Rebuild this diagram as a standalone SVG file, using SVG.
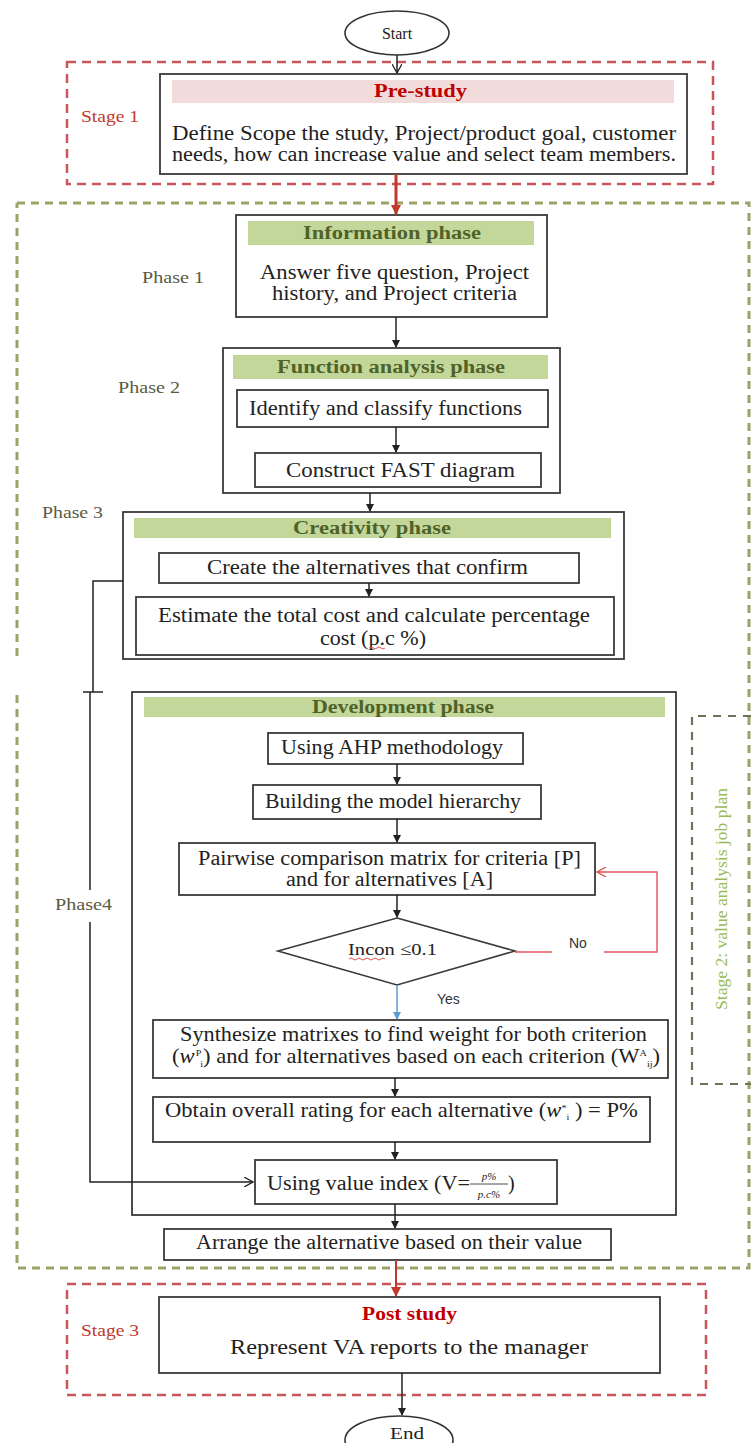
<svg xmlns="http://www.w3.org/2000/svg" width="751" height="1443" viewBox="0 0 751 1443">
<style>
.box{fill:#fff;stroke:#3a3a3a;stroke-width:1.8}
.hdr{fill:#c4d79b}
.t{font-family:"Liberation Serif",serif;font-size:20px;fill:#222}
.h{font-family:"Liberation Serif",serif;font-size:18px;font-weight:bold;fill:#4f6228}
.ph{font-family:"Liberation Serif",serif;font-size:17px;fill:#5a5a42}
.stg{font-family:"Liberation Serif",serif;font-size:17px;fill:#c0392b}
.sans{font-family:"Liberation Sans",sans-serif;font-size:14px;fill:#333}
.conn{stroke:#222;stroke-width:1.5;fill:none}
.redc{stroke:#c0392b;stroke-width:3;fill:none}
.rdash{fill:none;stroke:#c8565a;stroke-width:2.5;stroke-dasharray:9 6}
.gdash{fill:none;stroke:#9ca36a;stroke-width:3;stroke-dasharray:8 6}
</style>
<defs>
<marker id="ah" markerWidth="8" markerHeight="8" refX="7" refY="4" orient="auto" markerUnits="userSpaceOnUse"><path d="M0,0 L8,4 L0,8 z" fill="#222"/></marker>
<marker id="ahr" markerWidth="10" markerHeight="10" refX="9" refY="5" orient="auto" markerUnits="userSpaceOnUse"><path d="M0,0 L10,5 L0,10 z" fill="#c0392b"/></marker>
<marker id="ahb" markerWidth="8" markerHeight="8" refX="7" refY="4" orient="auto" markerUnits="userSpaceOnUse"><path d="M0,0 L8,4 L0,8 z" fill="#5b9bd5"/></marker>
<marker id="open" markerWidth="10" markerHeight="10" refX="9" refY="5" orient="auto" markerUnits="userSpaceOnUse"><path d="M0,0 L9,5 L0,10" fill="none" stroke="#222" stroke-width="1.3"/></marker>
<marker id="openr" markerWidth="10" markerHeight="10" refX="9" refY="5" orient="auto" markerUnits="userSpaceOnUse"><path d="M0,0 L9,5 L0,10" fill="none" stroke="#e0555a" stroke-width="1.3"/></marker>
</defs>

<g id="frames">
<rect x="67" y="62" width="646" height="122" class="rdash"/>
<path d="M17,203 H749 V1268 H17 V690 M17,656 V203" class="gdash"/>
<path d="M751,716 H692 V1084 H751" fill="none" stroke="#6e7256" stroke-width="2.2" stroke-dasharray="8 7"/>
<rect x="67" y="1284" width="639" height="111" class="rdash"/>
</g>

<g id="labels">
<text x="81" y="122" class="stg" textLength="58" lengthAdjust="spacingAndGlyphs">Stage 1</text>
<text x="142" y="283" class="ph" textLength="62" lengthAdjust="spacingAndGlyphs">Phase 1</text>
<text x="118" y="393" class="ph" textLength="62" lengthAdjust="spacingAndGlyphs">Phase 2</text>
<text x="42" y="518" class="ph" textLength="61" lengthAdjust="spacingAndGlyphs">Phase 3</text>
<text x="55" y="910" class="ph" textLength="57" lengthAdjust="spacingAndGlyphs">Phase4</text>
<text x="81" y="1336" class="stg" textLength="58" lengthAdjust="spacingAndGlyphs">Stage 3</text>
<text transform="translate(727,899) rotate(-90)" text-anchor="middle" font-family="Liberation Serif, serif" font-size="16" fill="#9bbb59" textLength="222" lengthAdjust="spacingAndGlyphs">Stage 2: value analysis job plan</text>
</g>

<g id="start">
<ellipse cx="397" cy="33" rx="52" ry="22" fill="#fff" stroke="#333" stroke-width="1.6"/>
<text x="397" y="39" text-anchor="middle" font-family="Liberation Serif, serif" font-size="16" fill="#222">Start</text>
</g>

<g id="prestudy">
<rect x="160" y="74" width="527" height="100" class="box"/>
<rect x="172" y="80" width="502" height="23" fill="#f2dcdb"/>
<text x="374" y="97" font-family="Liberation Serif, serif" font-size="18" font-weight="bold" fill="#c00000" textLength="93" lengthAdjust="spacingAndGlyphs">Pre-study</text>
<text x="172" y="140" class="t" textLength="504" lengthAdjust="spacingAndGlyphs">Define Scope the study, Project/product goal, customer</text>
<text x="172" y="161" class="t" textLength="504" lengthAdjust="spacingAndGlyphs">needs, how can increase value and select team members.</text>
</g>

<g id="information">
<rect x="236" y="215" width="311" height="102" class="box"/>
<rect x="248" y="221" width="286" height="24" class="hdr"/>
<text x="303" y="239" class="h" textLength="178" lengthAdjust="spacingAndGlyphs">Information phase</text>
<text x="260" y="279" class="t" textLength="269" lengthAdjust="spacingAndGlyphs">Answer five question, Project</text>
<text x="272" y="300" class="t" textLength="245" lengthAdjust="spacingAndGlyphs">history, and Project criteria</text>
</g>

<g id="function">
<rect x="223" y="348" width="337" height="145" class="box"/>
<rect x="233" y="355" width="315" height="24" class="hdr"/>
<text x="277" y="373" class="h" textLength="228" lengthAdjust="spacingAndGlyphs">Function analysis phase</text>
</g>
<g id="identify">
<rect x="237" y="390" width="311" height="37" class="box"/>
<text x="249" y="415" class="t" textLength="273" lengthAdjust="spacingAndGlyphs">Identify and classify functions</text>
</g>
<g id="fast">
<rect x="255" y="453" width="286" height="34" class="box"/>
<text x="286" y="477" class="t" textLength="229" lengthAdjust="spacingAndGlyphs">Construct FAST diagram</text>
</g>

<g id="creativity">
<rect x="123" y="512" width="501" height="147" class="box"/>
<rect x="134" y="518" width="477" height="20" class="hdr"/>
<text x="293" y="534" class="h" textLength="158" lengthAdjust="spacingAndGlyphs">Creativity phase</text>
</g>
<g id="create">
<rect x="159" y="553" width="420" height="30" class="box"/>
<text x="207" y="574" class="t" textLength="321" lengthAdjust="spacingAndGlyphs">Create the alternatives that confirm</text>
</g>
<g id="estimate">
<rect x="136" y="597" width="478" height="58" class="box"/>
<text x="158" y="622" class="t" textLength="432" lengthAdjust="spacingAndGlyphs">Estimate the total cost and calculate percentage</text>
<text x="320" y="645" class="t" textLength="106" lengthAdjust="spacingAndGlyphs">cost (p.c %)</text>
<path d="M369,648 q2,-2 4,0 t4,0 t4,0 t4,0" fill="none" stroke="#e05050" stroke-width="1"/>
</g>

<g id="development">
<rect x="132" y="692" width="544" height="523" class="box"/>
<rect x="144" y="697" width="521" height="20" class="hdr"/>
<text x="312" y="713" class="h" textLength="182" lengthAdjust="spacingAndGlyphs">Development phase</text>
</g>
<g id="ahp">
<rect x="268" y="733" width="255" height="31" class="box"/>
<text x="281" y="754" class="t" textLength="222" lengthAdjust="spacingAndGlyphs">Using AHP methodology</text>
</g>
<g id="hierarchy">
<rect x="253" y="785" width="288" height="34" class="box"/>
<text x="265" y="808" class="t" textLength="256" lengthAdjust="spacingAndGlyphs">Building the model hierarchy</text>
</g>
<g id="pairwise">
<rect x="179" y="843" width="416" height="52" class="box"/>
<text x="198" y="865" class="t" textLength="383" lengthAdjust="spacingAndGlyphs">Pairwise comparison matrix for criteria [P]</text>
<text x="286" y="886" class="t" textLength="207" lengthAdjust="spacingAndGlyphs">and for alternatives [A]</text>
</g>
<g id="incon">
<polygon points="397,918 515,951 397,985 278,951" fill="#fff" stroke="#3a3a3a" stroke-width="1.6"/>
<text x="348" y="955" font-family="Liberation Serif, serif" font-size="17" fill="#222" textLength="89" lengthAdjust="spacingAndGlyphs">Incon ≤0.1</text>
<path d="M349,959 q2,-2 4,0 t4,0 t4,0 t4,0 t4,0 t4,0 t4,0 t4,0 t4,0" fill="none" stroke="#e05050" stroke-width="1"/>
</g>
<g id="synthesize">
<rect x="153" y="1020" width="515" height="58" class="box"/>
<text x="180" y="1041" class="t" textLength="467" lengthAdjust="spacingAndGlyphs">Synthesize matrixes to find weight for both criterion</text>
<text transform="translate(172,1063) scale(1.13,1)" class="t">(<tspan font-style="italic">w</tspan><tspan font-size="9" dx="1" dy="-7">P</tspan><tspan font-size="9" dx="-1" dy="11">i</tspan><tspan dy="-4">) and for alternatives based on each criterion (W</tspan><tspan font-size="9" dy="-7">A</tspan><tspan font-size="9" dy="11">ij</tspan><tspan dy="-4">)</tspan></text>
</g>
<g id="obtain">
<rect x="153" y="1097" width="497" height="45" class="box"/>
<text transform="translate(165,1117) scale(1.13,1)" class="t">Obtain overall rating for each alternative (<tspan font-style="italic">w</tspan><tspan font-size="9" dy="-6">*</tspan><tspan font-size="9" dy="9">i</tspan><tspan dy="-3"> ) = P%</tspan></text>
</g>
<g id="valueindex">
<rect x="255" y="1160" width="302" height="44" class="box"/>
<text x="267" y="1190" class="t" textLength="203" lengthAdjust="spacingAndGlyphs">Using value index (V=</text>
<text x="489" y="1180" text-anchor="middle" font-family="Liberation Serif, serif" font-size="11" font-style="italic" fill="#222">p%</text>
<line x1="470" y1="1184" x2="508" y2="1184" stroke="#222" stroke-width="0.8"/>
<text x="489" y="1198" text-anchor="middle" font-family="Liberation Serif, serif" font-size="11" font-style="italic" fill="#222">p.c%</text>
<text x="508" y="1190" class="t">)</text>
</g>
<g id="arrange">
<rect x="164" y="1229" width="447" height="31" class="box"/>
<text x="196" y="1249" class="t" textLength="386" lengthAdjust="spacingAndGlyphs">Arrange the alternative based on their value</text>
</g>

<g id="poststudy">
<rect x="159" y="1297" width="501" height="76" class="box"/>
<text x="362" y="1320" font-family="Liberation Serif, serif" font-size="18" font-weight="bold" fill="#c00000" textLength="95" lengthAdjust="spacingAndGlyphs">Post study</text>
<text x="230" y="1354" class="t" textLength="358" lengthAdjust="spacingAndGlyphs">Represent VA reports to the manager</text>
</g>

<g id="end">
<ellipse cx="399" cy="1440" rx="54" ry="24" fill="#fff" stroke="#333" stroke-width="1.6"/>
<text x="390" y="1439" font-family="Liberation Serif, serif" font-size="16" fill="#222" textLength="34" lengthAdjust="spacingAndGlyphs">End</text>
</g>

<g id="connectors">
<path d="M397,55 V73" class="conn" marker-end="url(#open)"/>
<path d="M396,174 V214" class="redc" marker-end="url(#ahr)"/>
<path d="M396,317 V347" class="conn" marker-end="url(#ah)"/>
<path d="M396,427 V452" class="conn" marker-end="url(#ah)"/>
<path d="M370,493 V511" class="conn" marker-end="url(#ah)"/>
<path d="M369,583 V596" class="conn" marker-end="url(#ah)"/>
<path d="M123,581 H93 V692" class="conn"/>
<path d="M83,692 H103" class="conn"/>
<path d="M90,692 V890 M90,922 V1182 H253" class="conn" marker-end="url(#open)"/>
<path d="M397,764 V784" class="conn" marker-end="url(#ah)"/>
<path d="M397,819 V842" class="conn" marker-end="url(#ah)"/>
<path d="M397,895 V917" class="conn" marker-end="url(#ah)"/>
<path d="M515,952 H552" fill="none" stroke="#e0555a" stroke-width="1.4"/>
<text x="569" y="948" class="sans">No</text>
<path d="M604,952 H657 V872 H597" fill="none" stroke="#e0555a" stroke-width="1.4" marker-end="url(#openr)"/>
<path d="M397,985 V1019" fill="none" stroke="#5b9bd5" stroke-width="1.5" marker-end="url(#ahb)"/>
<text x="437" y="1004" class="sans">Yes</text>
<path d="M395,1078 V1096" class="conn" marker-end="url(#ah)"/>
<path d="M395,1142 V1159" class="conn" marker-end="url(#ah)"/>
<path d="M395,1204 V1228" class="conn" marker-end="url(#ah)"/>
<path d="M396,1260 V1296" fill="none" stroke="#c0392b" stroke-width="2" marker-end="url(#ahr)"/>
<path d="M402,1373 V1415" class="conn" marker-end="url(#ah)"/>
</g>
</svg>
